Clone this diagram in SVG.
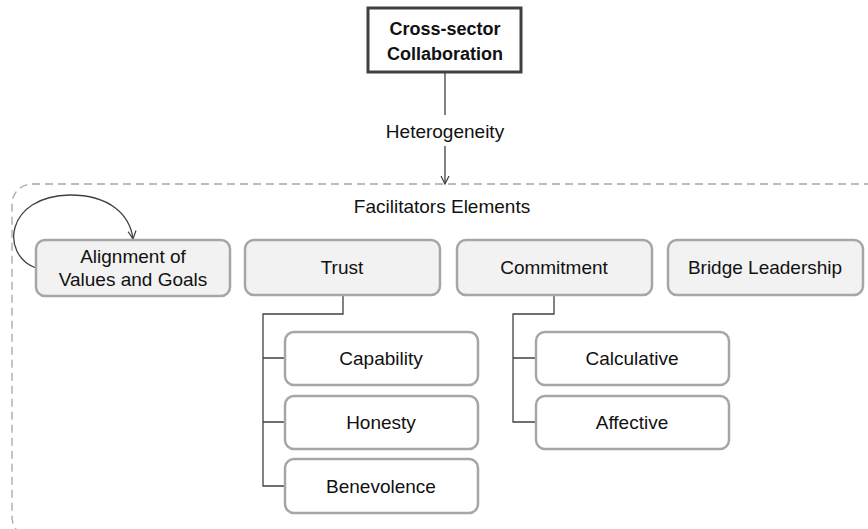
<svg xmlns="http://www.w3.org/2000/svg" width="868" height="529" viewBox="0 0 868 529">
<style>
text{font-family:"Liberation Sans",Arial,sans-serif;font-size:19px;fill:#111;text-anchor:middle}
.b{font-weight:bold;font-size:18px}
.top{fill:#f2f2f2;stroke:#a6a6a6;stroke-width:2.5}
.sub{fill:#fff;stroke:#a6a6a6;stroke-width:2.5}
.c{fill:none;stroke:#404040;stroke-width:1.3}
</style>
<defs>
<marker id="ah" markerWidth="10" markerHeight="10" refX="9" refY="5" orient="auto" markerUnits="userSpaceOnUse">
<path d="M1,1 L9,5 L1,9" fill="none" stroke="#404040" stroke-width="1.2"/>
</marker>
</defs>
<rect x="12" y="184" width="880" height="353" rx="20" fill="none" stroke="#a6a6a6" stroke-width="1.3" stroke-dasharray="8,5"/>
<text x="442" y="213">Facilitators Elements</text>
<g id="connectors">
<line class="c" x1="445" y1="73" x2="445" y2="115" stroke="#595959"/>
<text x="445" y="138">Heterogeneity</text>
<line class="c" x1="445" y1="146" x2="445" y2="184" marker-end="url(#ah)"/>
<path class="c" d="M36 268 C 0 255, 5 196, 70 195 C 110 195, 130 215, 133 239" marker-end="url(#ah)"/>
<path class="c" d="M343 296 V314 H263 V486 H285 M263 358 H285 M263 422 H285"/>
<path class="c" d="M554 296 V314 H513 V422 H536 M513 358 H536"/>
</g>
<g id="cross-sector">
<rect x="368" y="8" width="153" height="64" fill="#fff" stroke="#404040" stroke-width="3"/>
<text class="b" x="445" y="35">Cross-sector</text>
<text class="b" x="445" y="60">Collaboration</text>
</g>
<g id="alignment">
<rect class="top" x="36" y="240" width="194" height="56" rx="9"/>
<text x="133" y="263">Alignment of</text>
<text x="133" y="286">Values and Goals</text>
</g>
<g id="trust">
<rect class="top" x="245" y="240" width="195" height="55" rx="9"/>
<text x="342" y="274">Trust</text>
</g>
<g id="commitment">
<rect class="top" x="457" y="240" width="195" height="55" rx="9"/>
<text x="554" y="274">Commitment</text>
</g>
<g id="bridge">
<rect class="top" x="668" y="240" width="195" height="55" rx="9"/>
<text x="765" y="274">Bridge Leadership</text>
</g>
<g id="capability">
<rect class="sub" x="285" y="332" width="193" height="53" rx="9"/>
<text x="381" y="365">Capability</text>
</g>
<g id="honesty">
<rect class="sub" x="285" y="396" width="193" height="53" rx="9"/>
<text x="381" y="429">Honesty</text>
</g>
<g id="benevolence">
<rect class="sub" x="285" y="459" width="193" height="54" rx="9"/>
<text x="381" y="493">Benevolence</text>
</g>
<g id="calculative">
<rect class="sub" x="536" y="332" width="193" height="53" rx="9"/>
<text x="632" y="365">Calculative</text>
</g>
<g id="affective">
<rect class="sub" x="536" y="396" width="193" height="53" rx="9"/>
<text x="632" y="429">Affective</text>
</g>
</svg>
